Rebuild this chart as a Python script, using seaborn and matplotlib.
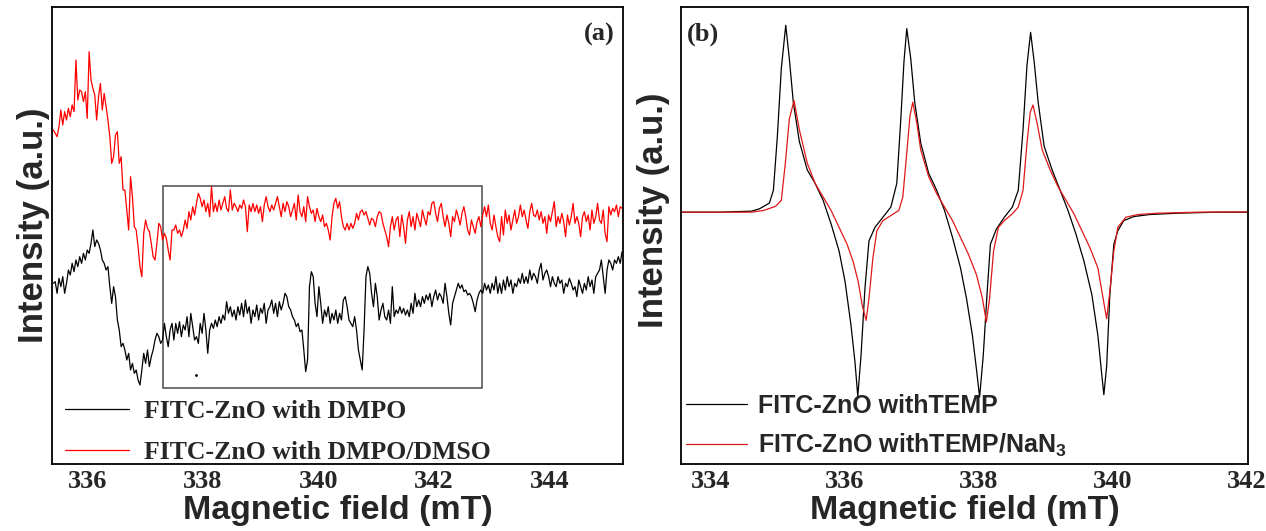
import numpy as np
import matplotlib
matplotlib.use("Agg")
from matplotlib import pyplot as plt
from matplotlib.patches import Rectangle
import seaborn as sns

# ---- panel (a): DMPO spin trap, sampled on an even field grid (mT) ----
field_a_start, field_a_stop = 335.415, 345.255
dmpo_dmso = [700,690,680,710,760,715,755,730,765,740,
             775,755,910,790,820,815,785,815,735,935,
             850,825,805,730,800,840,760,810,770,730,
             680,600,620,685,695,600,620,520,520,460,
             400,560,500,410,400,350,290,260,390,430,
             405,395,360,320,310,360,420,410,370,390,
             375,340,310,400,400,415,390,400,380,400,
             430,405,455,430,470,445,480,510,495,470,
             490,455,480,440,530,455,480,455,490,460,
             480,500,465,455,520,460,480,470,455,475,
             465,490,470,395,475,455,480,455,475,450,
             470,425,475,500,470,455,475,460,480,500,
             470,440,480,455,485,470,440,460,480,430,
             505,455,440,470,425,500,470,450,460,425,
             465,440,425,445,410,420,400,370,440,480,
             495,465,485,440,410,400,420,400,420,405,
             420,450,430,455,460,445,455,435,415,435,
             430,410,440,455,450,420,400,380,350,410,
             440,400,430,440,380,445,410,360,430,455,
             410,440,400,450,430,410,460,435,415,455,
             445,480,485,450,425,465,480,440,410,445,
             420,380,440,425,460,440,415,450,470,440,
             400,385,430,410,390,425,440,410,445,470,
             440,475,420,400,445,410,380,365,440,385,
             460,420,445,400,430,460,420,440,475,440,
             460,430,405,455,480,445,440,460,430,455,
             420,440,390,445,425,455,485,410,440,420,
             450,425,380,445,415,440,480,420,440,420,
             380,440,455,425,445,400,460,420,440,480,
             430,420,460,390,365,470,445,465,455,475,
             440,470,465]
dmpo = [240,245,210,255,230,260,210,240,280,265,
        300,275,310,290,320,300,330,310,340,330,
        360,400,350,370,360,340,310,300,280,290,
        230,180,230,200,130,100,50,60,40,10,
        30,-20,0,-30,-20,-50,-65,-20,30,0,
        40,-10,20,40,70,90,80,60,70,120,
        80,50,100,120,70,120,90,125,80,115,
        100,140,80,150,110,70,80,60,120,90,
        150,100,30,100,120,105,130,110,140,120,
        145,130,185,150,170,140,160,130,170,145,
        180,140,190,150,170,120,160,140,175,130,
        165,150,180,120,160,170,190,150,180,140,
        185,160,180,210,200,170,160,140,130,110,
        120,95,100,40,-25,10,230,275,260,180,
        140,230,180,120,160,140,170,120,150,130,
        160,120,150,130,190,200,170,130,120,110,
        140,100,40,10,-20,100,260,290,270,210,
        170,240,200,130,160,180,140,130,160,120,
        230,140,160,150,170,150,165,145,160,140,
        180,150,210,170,190,170,200,180,205,190,
        210,170,200,220,190,210,200,180,240,200,
        150,115,180,200,220,240,225,235,215,220,
        205,210,200,180,155,190,210,220,210,240,
        220,235,210,240,220,260,210,240,210,250,
        220,260,230,250,210,240,230,255,240,270,
        240,260,240,280,250,270,260,240,280,300,
        250,270,280,260,230,260,240,230,260,240,
        250,210,240,230,255,240,220,230,200,250,
        230,210,240,220,260,230,250,210,260,270,
        280,310,260,210,280,310,300,280,310,300,
        320,300,335]
box_field = [337.32, 342.83]
box_intensity = [-75, 533]
speck = (337.89, -35)

# ---- panel (b): TEMP spin trap ----
temp_field = [333.556,334.132,334.608,334.727,334.875,334.935,334.994,335.053,335.119,335.172,
              335.232,335.321,335.440,335.558,335.677,335.796,335.915,336.004,336.093,336.153,
              336.194,336.242,336.301,336.361,336.450,336.569,336.687,336.776,336.836,336.883,
              336.925,336.984,337.044,337.133,337.252,337.371,337.489,337.608,337.727,337.816,
              337.905,337.965,338.012,338.066,338.125,338.173,338.262,338.381,338.500,338.589,
              338.660,338.719,338.773,338.826,338.886,338.975,339.094,339.213,339.331,339.450,
              339.569,339.688,339.777,339.837,339.866,339.908,339.955,340.015,340.074,340.163,
              340.312,340.549,340.965,341.560,342.017]
temp = [0,0,3,10,27,65,225,425,553,455,
        325,210,125,85,35,-35,-115,-205,-335,-445,
        -545,-425,-225,-85,-45,-15,15,85,275,445,
        543,455,325,205,115,65,5,-75,-165,-255,
        -365,-465,-547,-425,-235,-95,-50,-15,15,65,
        245,435,532,445,325,195,125,65,5,-65,
        -145,-245,-365,-485,-540,-455,-245,-95,-55,-25,
        -13,-7,-3,0,0]
nan3_field = [333.556,334.608,334.786,334.964,335.053,335.113,335.172,335.243,335.321,335.440,
              335.558,335.677,335.796,335.915,336.034,336.123,336.200,336.260,336.319,336.361,
              336.420,336.479,336.569,336.687,336.806,336.866,336.925,336.973,337.014,337.074,
              337.133,337.252,337.371,337.489,337.608,337.727,337.846,337.965,338.054,338.113,
              338.161,338.220,338.292,338.381,338.500,338.589,338.660,338.719,338.767,338.808,
              338.868,338.945,339.064,339.183,339.302,339.420,339.539,339.658,339.777,339.837,
              339.908,339.955,340.015,340.074,340.193,340.371,340.668,341.262,342.017]
temp_nan3 = [0,0,5,17,35,145,275,330,245,145,
             85,45,5,-45,-95,-145,-205,-275,-320,-255,
             -135,-55,-25,-10,5,45,175,285,325,265,
             185,105,55,15,-25,-75,-125,-185,-255,-325,
             -255,-115,-45,-25,-5,15,65,205,295,317,
             265,185,125,75,35,-5,-55,-105,-165,-235,
             -315,-235,-115,-45,-15,-7,-3,0,1]

labels_a = ["FITC-ZnO with DMPO", "FITC-ZnO with DMPO/DMSO"]
labels_b = ["FITC-ZnO withTEMP", r"FITC-ZnO withTEMP/NaN$_\mathregular{3}$"]
ticks_a = [336, 338, 340, 342, 344]
ticks_b = [334, 336, 338, 340, 342]

sns.set_theme(style="white")
plt.rcParams["font.family"] = ["Liberation Sans", "DejaVu Sans"]

serif_bold = {"family": "Liberation Serif", "weight": "bold"}
sans_bold = {"family": "Liberation Sans", "weight": "bold"}

fig = plt.figure(figsize=(12.66, 5.31), dpi=100)
ax_a = fig.add_axes([52 / 1266, 67 / 531, 571 / 1266, 457 / 531])
ax_b = fig.add_axes([681 / 1266, 67 / 531, 567 / 1266, 457 / 531])

# panel a
field_a = np.linspace(field_a_start, field_a_stop, len(dmpo))
sns.lineplot(x=field_a, y=dmpo, ax=ax_a, color="black", lw=0.9,
             estimator=None, sort=False, label=labels_a[0])
sns.lineplot(x=field_a, y=dmpo_dmso, ax=ax_a, color="#ff0000", lw=0.9,
             estimator=None, sort=False, label=labels_a[1])
ax_a.add_patch(Rectangle((box_field[0], box_intensity[0]),
                         box_field[1] - box_field[0],
                         box_intensity[1] - box_intensity[0],
                         fill=False, ec="#4a4a4a", lw=1.1))
ax_a.plot([speck[0]], [speck[1]], marker=".", ms=2, color="black")
ax_a.set_xlim(335.392, 345.271)
ax_a.set_ylim(-302, 1069)
ax_a.set_xticks(ticks_a)
ax_a.text(0.985, 0.965, "(a)", transform=ax_a.transAxes, ha="right", va="top",
          fontsize=19, **serif_bold)

# panel b
sns.lineplot(x=temp_field, y=temp, ax=ax_b, color="black", lw=0.9,
             estimator=None, sort=False, label=labels_b[0])
sns.lineplot(x=nan3_field, y=temp_nan3, ax=ax_b, color="#e01818", lw=0.9,
             estimator=None, sort=False, label=labels_b[1])
ax_b.set_xlim(333.556, 342.017)
ax_b.set_ylim(-745, 607)
ax_b.set_xticks(ticks_b)
ax_b.text(0.01, 0.965, "(b)", transform=ax_b.transAxes, ha="left", va="top",
          fontsize=19, **serif_bold)

for ax, legfont, hl, htp, lsp, anchor in [
        (ax_a, dict(serif_bold, size=18.5), 2.5, 0.6, 0.7, (0.022, 0.0)),
        (ax_b, dict(sans_bold, size=18), 2.45, 0.45, 0.58, (0.008, 0.01))]:
    ax.legend(loc="lower left", bbox_to_anchor=anchor, frameon=False,
              prop=legfont, handlelength=hl, handletextpad=htp,
              labelspacing=lsp, borderpad=0, borderaxespad=0)
    ax.set_yticks([])
    ax.tick_params(axis="x", length=0, pad=4)
    for lab in ax.get_xticklabels():
        lab.set_fontfamily("Liberation Serif")
        lab.set_fontweight("bold")
        lab.set_fontsize(19)
    for sp in ax.spines.values():
        sp.set_color("black")
        sp.set_linewidth(1.3)
    ax.set_xlabel("Magnetic field (mT)", fontsize=24.5, labelpad=2, **sans_bold)
    ax.set_ylabel("Intensity (a.u.)", fontsize=25, **sans_bold)

ax_a.yaxis.set_label_coords(-0.004, 0.523)
ax_b.yaxis.set_label_coords(-0.019, 0.556)

fig.savefig("out.png", dpi=100)
